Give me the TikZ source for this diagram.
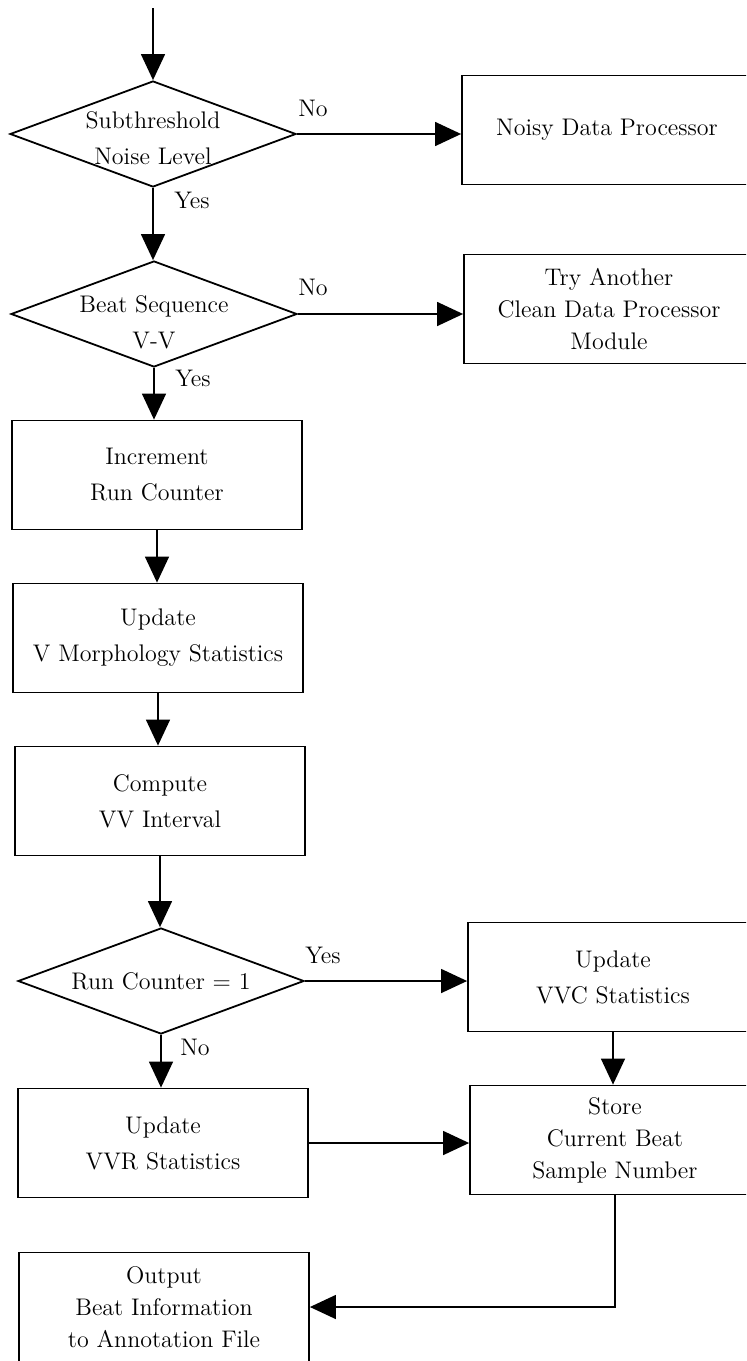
\documentclass[tikz,border=0pt]{standalone}
\usetikzlibrary{shapes.geometric,arrows.meta}
\begin{document}
\begin{tikzpicture}[x=0.5pt,y=-0.5pt,
				every node/.style={font=\fontsize{12}{18}\selectfont},
				block/.style={draw,line width=0.9pt,minimum width=145pt,minimum height=54.5pt,align=center,inner sep=0pt},
				decision/.style={draw,diamond,line width=0.9pt,minimum width=143pt,minimum height=53pt,inner sep=0pt},
				threeline/.style={font=\fontsize{12}{16}\selectfont},
				answer/.style={inner sep=0pt},
				flow/.style={line width=0.7pt,-{Triangle[length=13pt,width=12pt]}}]
\path[use as bounding box,clip] (0,0) rectangle (746,1361);
\coordinate (start) at (153,8);
\node[decision,label={[align=center,yshift=-2pt]center:Subthreshold\\Noise Level}] (d1) at (153,134) {};
\node[decision,label={[align=center,yshift=-4pt]center:Beat Sequence\\V-V}] (d2) at (154,314) {};
\node[decision,label={center:Run Counter $=$ 1}] (d3) at (161,981) {};
\node[block] (noisy) at (607,130) {Noisy Data Processor};
\node[block,threeline] (try) at (609,309) {Try Another\\Clean Data Processor\\Module};
\node[block] (incr) at (157,475) {Increment\\Run Counter};
\node[block] (morph) at (158,638) {Update\\V Morphology Statistics};
\node[block] (comp) at (160,801) {Compute\\VV Interval};
\node[block] (vvc) at (613,977) {Update\\VVC Statistics};
\node[block] (vvr) at (163,1143) {Update\\VVR Statistics};
\node[block,threeline] (store) at (615,1140) {Store\\Current Beat\\Sample Number};
\node[block,threeline] (output) at (164,1307) {Output\\Beat Information\\to Annotation File};
\node[answer] (no1) at (313,108) {No};
\node[answer] (yes1) at (192,200) {Yes};
\node[answer] (no2) at (313,287) {No};
\node[answer] (yes2) at (193,378) {Yes};
\node[answer] (yes3) at (323,955) {Yes};
\node[answer] (no3) at (195,1047) {No};
\draw[flow] (start) -- (d1.north);
\draw[flow] (d1.east) -- (d1.east -| noisy.west);
\draw[flow] (d1.south) -- (d1.south |- d2.north);
\draw[flow] (d2.east) -- (d2.east -| try.west);
\draw[flow] (d2.south) -- (d2.south |- incr.north);
\draw[flow] (incr.south) -- (incr.south |- morph.north);
\draw[flow] (morph.south) -- (morph.south |- comp.north);
\draw[flow] (comp.south) -- (comp.south |- d3.north);
\draw[flow] (d3.east) -- (d3.east -| vvc.west);
\draw[flow] (d3.south) -- (d3.south |- vvr.north);
\draw[flow] (vvc.south) -- (vvc.south |- store.north);
\draw[flow] (vvr.east) -- (vvr.east -| store.west);
\draw[flow] (store.south) |- (output.east);
\end{tikzpicture}
\end{document}
